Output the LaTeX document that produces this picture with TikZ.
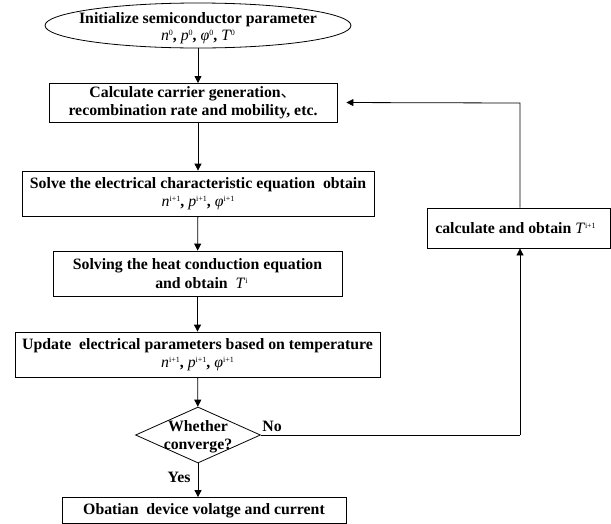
\documentclass[tikz,border=0pt]{standalone}
\usepackage{fontspec}
\setmainfont{Liberation Serif}
\newfontfamily\cjk{Noto Sans CJK SC}
\usetikzlibrary{shapes.geometric,arrows.meta}
\newcommand\vr[2]{\textnormal{\mdseries\itshape #1}\raisebox{0.65ex}{\fontsize{8}{8}\selectfont\mdseries #2}}
\begin{document}
\begin{tikzpicture}[x=1pt,y=-1pt,
  every node/.style={font=\fontsize{15.8}{18.5}\selectfont\bfseries, align=center, inner sep=0pt},
  stepbox/.style={draw, line width=0.8pt, rectangle},
  flow/.style={draw, line width=0.8pt, -{Triangle[length=7pt,width=7pt]}},
  plain/.style={draw, line width=0.8pt}]
\useasboundingbox (0,0) rectangle (611,523);
\node[draw, line width=0.8pt, ellipse, minimum width=306pt, minimum height=45pt] (init) at (198,25.5) {};
\node at (198,20) {Initialize semiconductor parameter};
\node (initm) at (198,37) {\vr{n}{0}, \vr{p}{0}, \vr{φ}{0}, \vr{T}{0}};
\node[stepbox, minimum width=288pt, minimum height=39pt] (calc) at (193,102.5) {Calculate carrier generation{\cjk\mdseries 、}\\recombination rate and mobility, etc.};
\node[stepbox, minimum width=352pt, minimum height=45pt] (elec) at (198,193.5) {Solve the electrical characteristic equation\ \ obtain\\[-1pt] \vr{n}{i+1}, \vr{p}{i+1}, \vr{φ}{i+1}};
\node[stepbox, minimum width=289pt, minimum height=45pt] (heat) at (197.5,273.5) {Solving the heat conduction equation\\\ \ and obtain\ \ \vr{T}{i}};
\node[stepbox, minimum width=365pt, minimum height=45pt] (upd) at (197.5,354.5) {Update\ \ electrical parameters based on temperature\\[-1pt] \vr{n}{i+1}, \vr{p}{i+1}, \vr{φ}{i+1}};
\node[draw, line width=0.8pt, diamond, aspect=2.23, minimum width=125pt, minimum height=56pt] (conv) at (198,435) {};
\node at (198,437) {Whether\\converge?};
\node[stepbox, minimum width=284pt, minimum height=26pt] (out) at (204,510.5) {Obatian\ \ device volatge and current};
\node[stepbox, minimum width=183pt, minimum height=40pt] (tcalc) at (518.5,228) {\hspace*{-6pt}calculate and obtain \vr{T}{i+1}};
\node (yes) at (179,477) {Yes};
\node (no) at (272,426) {No};
\coordinate (corner1) at (520,435);
\coordinate (corner2) at (520,103);
\draw[flow] (init) -- (198,83);
\draw[flow] (198,122) -- (elec.north);
\draw[flow] (elec) -- (heat);
\draw[flow] (heat) -- (upd);
\draw[flow] (upd) -- (conv);
\draw[flow] (conv.south) -- (conv.south |- out.north);
\draw[plain] (conv.east) -- (corner1);
\draw[flow] (corner1) -- (tcalc.south -| corner1);
\draw[flow, shorten >=9pt] (tcalc.north -| corner2) -- (corner2) -- (calc.east);
\end{tikzpicture}
\end{document}
